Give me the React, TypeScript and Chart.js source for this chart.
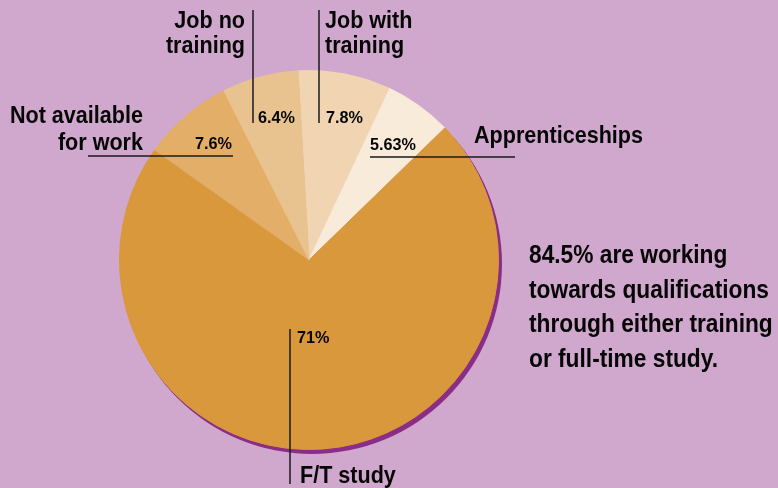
import React, { useEffect, useRef } from "react";
import { Chart, registerables } from "chart.js";

Chart.register(...registerables);

const categories = ["Job with training", "Apprenticeships", "F/T study", "Not available for work", "Job no training"];
const values = [7.8, 5.63, 71, 7.6, 6.4];
const valueLabels = ["7.8%", "5.63%", "71%", "7.6%", "6.4%"];
const sliceColors = ["#F1D5B3", "#F8EBDA", "#DA983C", "#E2AE68", "#E9C38F"];
const noteLines = [
  "84.5% are working",
  "towards qualifications",
  "through either training",
  "or full-time study.",
];

const BG = "#D1A8CD";
const SHADOW = "#8B2D87";
const FONT = '"Liberation Sans", Arial, sans-serif';

export default function App() {
  const ref = useRef<HTMLCanvasElement | null>(null);

  useEffect(() => {
    document.body.style.margin = "0";
    document.body.style.background = BG;
    const canvas = ref.current!;

    const bgPlugin = {
      id: "bg",
      beforeDraw(chart: any) {
        const { ctx, width, height } = chart;
        ctx.save();
        ctx.fillStyle = BG;
        ctx.fillRect(0, 0, width, height);
        ctx.restore();
      },
      beforeDatasetsDraw(chart: any) {
        const arc = chart.getDatasetMeta(0).data[0];
        if (!arc) return;
        const { x, y, outerRadius } = arc;
        const ctx = chart.ctx;
        ctx.save();
        ctx.fillStyle = SHADOW;
        ctx.beginPath();
        ctx.arc(x + 3, y + 4, outerRadius + 0.5, 0, Math.PI * 2);
        ctx.fill();
        ctx.restore();
      },
    };

    const annoPlugin = {
      id: "anno",
      afterDraw(chart: any) {
        const arc = chart.getDatasetMeta(0).data[0];
        if (!arc) return;
        const cx = arc.x;
        const cy = arc.y;
        const ctx = chart.ctx;
        ctx.save();
        ctx.strokeStyle = "#1a1a1a";
        ctx.lineWidth = 1.5;
        const line = (x1: number, y1: number, x2: number, y2: number) => {
          ctx.beginPath();
          ctx.moveTo(cx + x1, cy + y1);
          ctx.lineTo(cx + x2, cy + y2);
          ctx.stroke();
        };
        const scaleFor = (sample: string, size: number, target: number) => {
          ctx.font = `bold ${size}px ${FONT}`;
          return target / ctx.measureText(sample).width;
        };
        const sBig = scaleFor("Apprenticeships", 23, 169);
        const sNote = scaleFor("towards qualifications", 25, 240);
        const sSmall = scaleFor("5.63%", 17, 46);
        const text = (s: string, x: number, y: number, size: number, sx: number, align: CanvasTextAlign) => {
          ctx.save();
          ctx.font = `bold ${size}px ${FONT}`;
          ctx.textAlign = align;
          ctx.textBaseline = "alphabetic";
          ctx.fillStyle = "#050505";
          ctx.translate(cx + x, cy + y);
          ctx.scale(sx, 1);
          ctx.fillText(s, 0, 0);
          ctx.restore();
        };
        const big = 23;
        const small = 17;
        // Job no training (index 4)
        line(-56, -250, -56, -137);
        text("Job no", -64, -232, big, sBig, "right");
        text("training", -64, -207, big, sBig, "right");
        text(valueLabels[4], -51, -137, small, sSmall, "left");
        // Job with training (index 0)
        line(10, -250, 10, -137);
        text("Job with", 16, -232, big, sBig, "left");
        text("training", 16, -207, big, sBig, "left");
        text(valueLabels[0], 17, -137, small, sSmall, "left");
        // Not available (index 3)
        line(-221, -104, -76, -104);
        text("Not available", -166, -137, big, sBig, "right");
        text("for work", -166, -110, big, sBig, "right");
        text(valueLabels[3], -77, -111, small, sSmall, "right");
        // Apprenticeships (index 1)
        line(61, -103, 206, -103);
        text("Apprenticeships", 165, -117, big, sBig, "left");
        text(valueLabels[1], 61, -110, small, sSmall, "left");
        // F/T study (index 2)
        line(-19, 69, -19, 224);
        text(valueLabels[2], -12, 83, small, sSmall, "left");
        text("F/T study", -9, 223, big, sBig, "left");
        // Note
        noteLines.forEach((s, i) => text(s, 220, 3 + i * 34.7, 25, sNote, "left"));
        ctx.restore();
      },
    };

    const chart = new Chart(canvas, {
      type: "pie",
      data: {
        labels: categories,
        datasets: [
          {
            data: values,
            backgroundColor: sliceColors,
            borderColor: sliceColors,
            borderWidth: 1,
          },
        ],
      },
      options: {
        responsive: false,
        animation: false,
        rotation: -3.3,
        layout: { padding: { left: 119, right: 279, top: 70, bottom: 38 } },
        plugins: {
          legend: { display: false },
          tooltip: { enabled: false },
        },
      },
      plugins: [bgPlugin, annoPlugin],
    });
    return () => chart.destroy();
  }, []);

  return <canvas ref={ref} width={778} height={488} style={{ display: "block" }} />;
}
